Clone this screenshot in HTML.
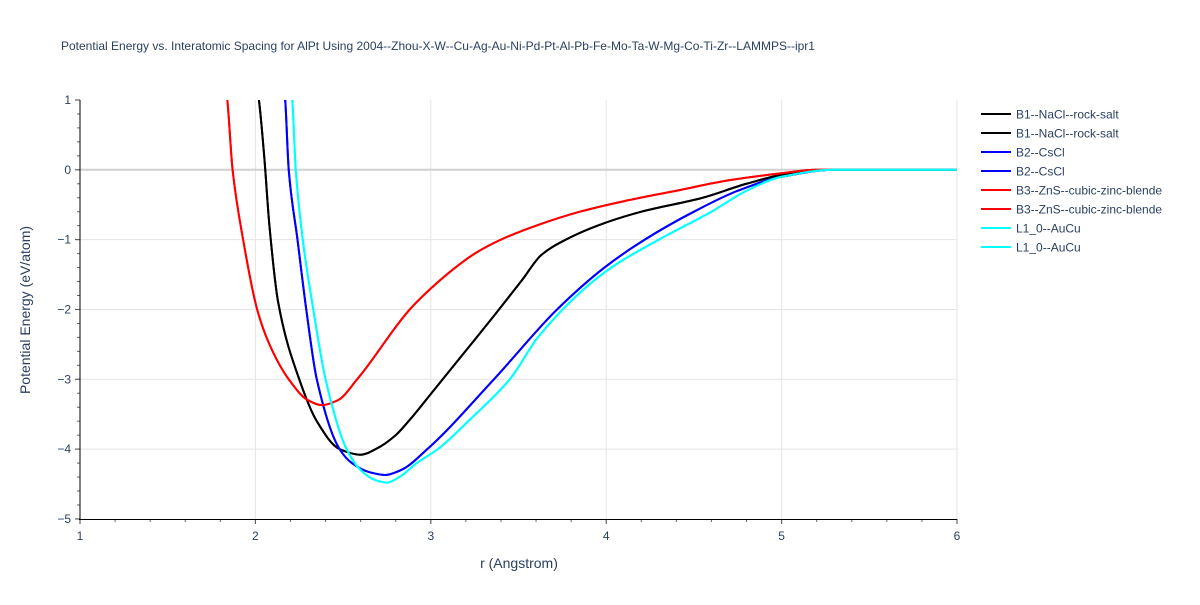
<!DOCTYPE html>
<html><head><meta charset="utf-8"><style>
body{margin:0;background:#fff;font-family:"Liberation Sans",sans-serif}
</style></head><body>
<svg width="1200" height="600" xmlns="http://www.w3.org/2000/svg" id="chart" style="font-family:'Liberation Sans',sans-serif">
<rect width="1200" height="600" fill="#fff"/>
<text x="61" y="50" font-size="12" fill="#2a3f5f">Potential Energy vs. Interatomic Spacing for AlPt Using 2004--Zhou-X-W--Cu-Ag-Au-Ni-Pd-Pt-Al-Pb-Fe-Mo-Ta-W-Mg-Co-Ti-Zr--LAMMPS--ipr1</text>
<g id="grid"></g>
<g id="axes"></g>
<defs><clipPath id="clip"><rect x="80" y="100" width="877" height="419"/></clipPath></defs>
<g id="series" clip-path="url(#clip)"></g>
<text x="519" y="568" font-size="14" fill="#2a3f5f" text-anchor="middle">r (Angstrom)</text>
<text x="30" y="310" font-size="14" fill="#2a3f5f" text-anchor="middle" transform="rotate(-90 30 310)">Potential Energy (eV/atom)</text>
<g id="legend"></g>
</svg>
<script>
const xTicks=[1,2,3,4,5,6];
const yTicks=[1,0,-1,-2,-3,-4,-5];
const seriesNames=["B1--NaCl--rock-salt","B2--CsCl","B3--ZnS--cubic-zinc-blende","L1_0--AuCu"];
const seriesColors=["#000000","#0000ff","#ff0000","#00ffff"];
const b1R=[1.98,2.02,2.05,2.08,2.13,2.25,2.35,2.48,2.6,2.7,2.8,2.88,3.0,3.2,3.37,3.52,3.63,3.77,3.95,4.2,4.55,4.8,5.05,5.3,6];
const b1E=[1.6,1,0.2,-0.8,-1.9,-3,-3.6,-4.0,-4.08,-3.98,-3.8,-3.58,-3.21,-2.59,-2.06,-1.58,-1.22,-1.0,-0.8,-0.6,-0.4,-0.2,-0.05,0,0];
const b2R=[2.15,2.17,2.19,2.24,2.29,2.35,2.48,2.55,2.65,2.74,2.83,2.98,3.36,3.72,3.99,4.22,4.5,4.75,5.0,5.3,6];
const b2E=[1.5,1,0,-1,-2,-3,-4,-4.2,-4.33,-4.37,-4.3,-4.0,-3.0,-2.0,-1.4,-1.0,-0.6,-0.3,-0.1,0,0];
const b3R=[1.82,1.84,1.87,1.93,2.01,2.08,2.19,2.3,2.38,2.47,2.58,2.88,3.0,3.14,3.25,3.4,3.6,3.85,4.1,4.4,4.7,5.0,5.2,6];
const b3E=[1.4,1,0,-1,-2,-2.5,-3,-3.3,-3.37,-3.3,-3.0,-2.0,-1.7,-1.4,-1.2,-1.0,-0.8,-0.6,-0.45,-0.3,-0.15,-0.05,0,0];
const l10R=[2.19,2.21,2.23,2.27,2.33,2.4,2.52,2.6,2.68,2.75,2.82,2.92,3.04,3.23,3.45,3.62,3.99,4.3,4.6,4.8,5.0,5.3,6];
const l10E=[1.4,1,0,-1,-2,-3,-4,-4.3,-4.44,-4.48,-4.4,-4.2,-4.0,-3.56,-3.0,-2.37,-1.47,-1.0,-0.6,-0.3,-0.1,0,0];
const NS="http://www.w3.org/2000/svg";
const X=r=>80+(r-1)*175.4, Y=e=>169.8-e*69.83;
function mk(t,a,p){const el=document.createElementNS(NS,t);for(const k in a)el.setAttribute(k,a[k]);p.appendChild(el);return el;}
const grid=document.getElementById('grid'),axes=document.getElementById('axes'),ser=document.getElementById('series'),leg=document.getElementById('legend');
xTicks.forEach(t=>{if(t>1){const l=mk('line',{x1:X(t),x2:X(t),y1:100,y2:519,stroke:'#e5e5e5'},grid);}
 const tx=mk('text',{x:X(t),y:540,'font-size':12,fill:'#2a3f5f','text-anchor':'middle'},axes);tx.textContent=t;
 
 mk('line',{x1:X(t),x2:X(t),y1:519,y2:524,stroke:'#444'},axes);});
for(let r=1.2;r<6;r+=0.2){mk('line',{x1:X(r),x2:X(r),y1:519,y2:522,stroke:'#666'},axes);}
yTicks.forEach(t=>{if(t>-5&&t<1){const l=mk('line',{x1:80,x2:957,y1:Y(t),y2:Y(t),stroke:t==0?'#d0d0d0':'#e5e5e5','stroke-width':t==0?2:1},grid);}
 const tx=mk('text',{x:71,y:Y(t)+4,'font-size':12,fill:'#2a3f5f','text-anchor':'end'},axes);tx.textContent=t<0?'\u2212'+(-t):t;
 
 mk('line',{x1:75,x2:80,y1:Y(t),y2:Y(t),stroke:'#444'},axes);});
for(let e=-4.8;e<1;e+=0.2){mk('line',{x1:77,x2:80,y1:Y(e),y2:Y(e),stroke:'#666'},axes);}
mk('line',{x1:80,x2:80,y1:100,y2:520,stroke:'#000'},axes);
mk('line',{x1:79,x2:957,y1:519.5,y2:519.5,stroke:'#000'},axes);
function pathD(R,E){const n=R.length,d=[],m=new Array(n);
 for(let i=0;i<n-1;i++)d.push((E[i+1]-E[i])/(R[i+1]-R[i]));
 m[0]=d[0];m[n-1]=d[n-2];
 for(let i=1;i<n-1;i++){if(d[i-1]*d[i]<=0)m[i]=0;else{const w1=2*(R[i+1]-R[i])+(R[i]-R[i-1]),w2=(R[i+1]-R[i])+2*(R[i]-R[i-1]);m[i]=(w1+w2)/(w1/d[i-1]+w2/d[i]);}}
 let s='M'+X(R[0])+','+Y(E[0]);
 for(let i=0;i<n-1;i++){const h=R[i+1]-R[i];
  s+=' C'+X(R[i]+h/3)+','+Y(E[i]+m[i]*h/3)+' '+X(R[i+1]-h/3)+','+Y(E[i+1]-m[i+1]*h/3)+' '+X(R[i+1])+','+Y(E[i+1]);}
 return s;}
const data=[[b1R,b1E],[b2R,b2E],[b3R,b3E],[l10R,l10E]];
data.forEach((s,i)=>{for(let k=0;k<2;k++){const p=mk('path',{d:pathD(s[0],s[1]),fill:'none',stroke:seriesColors[i],'stroke-width':2,'stroke-linejoin':'round'},ser);
 }});
let ly=114;seriesNames.forEach((n,i)=>{for(let k=0;k<2;k++){
 const g=mk('g',{},leg);
 mk('line',{x1:981,x2:1011,y1:ly,y2:ly,stroke:seriesColors[i],'stroke-width':2},g);
 const t=mk('text',{x:1016,y:ly+4.5,'font-size':12,fill:'#2a3f5f'},g);t.textContent=n;ly+=19;}});
</script>
</body></html>
